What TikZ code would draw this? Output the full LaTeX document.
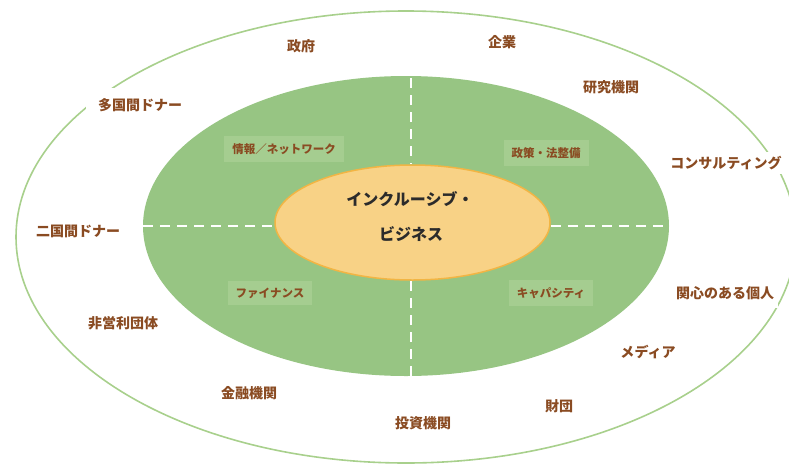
\documentclass[tikz,border=0pt]{standalone}
\usepackage{fontspec}
\usetikzlibrary{shapes.geometric}
\newfontfamily\jp{Noto Sans CJK JP}
\definecolor{outerline}{HTML}{A8D08C}
\definecolor{greenfill}{HTML}{97C583}
\definecolor{boxfill}{HTML}{A5CD90}
\definecolor{orfill}{HTML}{F8D286}
\definecolor{orline}{HTML}{F2B544}
\definecolor{brownt}{HTML}{8A4B22}
\definecolor{darkt}{HTML}{2B2B2B}
\tikzset{
  outerlbl/.style={fill=white, inner xsep=4pt, inner ysep=4pt, text=brownt, font=\jp\bfseries\fontsize{14}{15}\selectfont},
  quadlbl/.style={fill=boxfill, inner xsep=8pt, inner ysep=7pt, text=brownt, font=\jp\bfseries\fontsize{11.5}{12}\selectfont},
  centerlbl/.style={text=darkt, font=\jp\bfseries\fontsize{16}{17}\selectfont, align=center},
  divider/.style={draw=white, line width=2.5pt, dash pattern=on 10pt off 7pt}
}
\begin{document}
\begin{tikzpicture}[x=1pt,y=-1pt]
\useasboundingbox (0,0) rectangle (789,466);
% outer ring
\draw[outerline, line width=1.6pt] (406,237) ellipse [x radius=390, y radius=226];
% green ellipse
\node[ellipse, fill=greenfill, minimum width=526pt, minimum height=300pt, inner sep=0pt] (green) at (406,226) {};
% quadrant labels
\node[quadlbl] (q1) at (284,149) {情報／ネットワーク};
\node[quadlbl] (q2) at (546,153) {政策・法整備};
\node[quadlbl] (q3) at (270,293) {ファイナンス};
\node[quadlbl] (q4) at (551,293) {キャパシティ};
% orange ellipse
\node[ellipse, fill=orfill, draw=orline, line width=1.5pt, minimum width=275pt, minimum height=115pt, inner sep=0pt] (core) at (412.5,222.5) {};
\node[centerlbl] (t1) at (410,199) {インクルーシブ・};
\node[centerlbl] (t2) at (411,234) {ビジネス};
% dividers
\coordinate (dl) at (143,226);
\coordinate (dr) at (669,226);
\coordinate (dt) at (411,78);
\coordinate (db) at (411,376);
\draw[divider] (dl) -- (dl -| core.west);
\draw[divider] (dr -| core.east) -- (dr);
\draw[divider] (dt) -- (core.north -| dt);
\draw[divider] (core.south -| db) -- (db);
% outer labels
\node[outerlbl] (l1) at (301,46) {政府};
\node[outerlbl] (l2) at (502,42) {企業};
\node[outerlbl] (l3) at (611,87) {研究機関};
\node[outerlbl, inner xsep=12pt, inner ysep=10pt] (l4) at (140,105) {多国間ドナー};
\node[outerlbl] (l5) at (726,163) {コンサルティング};
\node[outerlbl] (l6) at (78,231) {二国間ドナー};
\node[outerlbl, inner ysep=8pt] (l7) at (725,293) {関心のある個人};
\node[outerlbl] (l8) at (123,323) {非営利団体};
\node[outerlbl] (l9) at (648,352) {メディア};
\node[outerlbl] (l10) at (249,393) {金融機関};
\node[outerlbl] (l11) at (559,406) {財団};
\node[outerlbl] (l12) at (423,423) {投資機関};
\end{tikzpicture}
\end{document}
